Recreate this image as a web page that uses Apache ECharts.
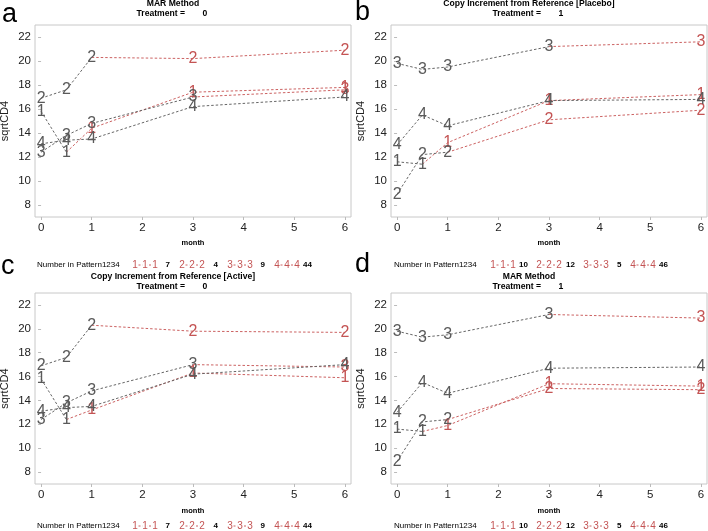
<!DOCTYPE html>
<html><head><meta charset="utf-8">
<script src="https://cdn.jsdelivr.net/npm/echarts@6/dist/echarts.min.js"></script>
<style>html,body{margin:0;padding:0;background:#fff}#c{width:708px;height:531px}</style>
</head><body><div id="c"></div><script>
// ---- data ----
const months = [0, 0.5, 1, 3, 6];
const xTicks = [0, 1, 2, 3, 4, 5, 6];
const yTicks = [8, 10, 12, 14, 16, 18, 20, 22];
const patternIds = [1, 2, 3, 4];
const observedPoints = [2, 3, 4, 5];   // number of observed visits per pattern
const countsT0 = [7, 4, 9, 44];
const countsT1 = [10, 12, 5, 46];
// a: MAR, treatment 0
const aP1 = [15.8, 12.4, 14.4, 17.4, 17.8];
const aP2 = [16.9, 17.6, 20.3, 20.2, 20.9];
const aP3 = [12.4, 13.8, 14.8, 17.0, 17.6];
const aP4 = [13.1, 13.4, 13.5, 16.2, 17.0];
// b: Copy increment from reference [Placebo], treatment 1
const bP1 = [11.6, 11.4, 13.2, 16.7, 17.2];
const bP2 = [8.9, 12.2, 12.4, 15.1, 15.9];
const bP3 = [19.8, 19.3, 19.5, 21.2, 21.6];
const bP4 = [13.0, 15.5, 14.6, 16.7, 16.8];
// c: Copy increment from reference [Active], treatment 0
const cP1 = [15.8, 12.4, 13.2, 16.3, 15.9];
const cP2 = [16.9, 17.6, 20.3, 19.8, 19.7];
const cP3 = [12.4, 13.8, 14.8, 17.0, 16.8];
const cP4 = [13.1, 13.4, 13.5, 16.2, 17.0];
// d: MAR, treatment 1
const dP1 = [11.6, 11.4, 11.9, 15.4, 15.2];
const dP2 = [8.9, 12.2, 12.4, 15.0, 14.9];
const dP3 = [19.8, 19.3, 19.5, 21.2, 20.9];
const dP4 = [13.0, 15.5, 14.6, 16.7, 16.8];

const panels = [
  {letter: 'a', title: 'MAR Method', trt: '0', series: [aP1, aP2, aP3, aP4], counts: countsT0},
  {letter: 'b', title: 'Copy Increment from Reference [Placebo]', trt: '1', series: [bP1, bP2, bP3, bP4], counts: countsT1},
  {letter: 'c', title: 'Copy Increment from Reference [Active]', trt: '0', series: [cP1, cP2, cP3, cP4], counts: countsT0},
  {letter: 'd', title: 'MAR Method', trt: '1', series: [dP1, dP2, dP3, dP4], counts: countsT1}
];

// ---- layout / style ----
const layout = [
  {left: 35, top: 25, h: 192, lx: 2, ly: 1.5, off: 0, cx: 173, t1: 4, mo: 243, lg: 265},
  {left: 391, top: 25, h: 192, lx: 355, ly: -0.5, off: 356, cx: 529, t1: 4, mo: 243, lg: 265},
  {left: 35, top: 293, h: 191, lx: 1, ly: 253, off: 0, cx: 173, t1: 277, mo: 511, lg: 526},
  {left: 391, top: 293, h: 191, lx: 355, ly: 251, off: 356, cx: 529, t1: 277, mo: 511, lg: 526}
];
const W = 316;
const GREY = '#666666', RED = '#cc6262';
const GREY_T = '#5a5a5a', RED_T = '#c45454';
const DIGIT_FONT = '"Liberation Sans Narrow","Liberation Sans",Arial,sans-serif';
const FONT = '"Liberation Sans",Arial,sans-serif';
const glyphXLeft = [133, 180, 228, 275], numXLeft = [165.5, 213.5, 260.5, 303];
const glyphXRight = [135, 181, 228, 275], numXRight = [163, 210, 261, 303];

const grids = [], xAxes = [], yAxes = [], series = [], graphics = [];
panels.forEach((p, i) => {
  const L = layout[i];
  grids.push({left: L.left, top: L.top, width: W, height: L.h, show: true,
    borderColor: '#c8c8c8', borderWidth: 1, containLabel: false});
  xAxes.push({type: 'value', gridIndex: i, min: -0.12, max: 6.12,
    axisLine: {show: false}, splitLine: {show: false},
    axisTick: {show: true, length: 3, customValues: xTicks, lineStyle: {color: '#bbb'}},
    axisLabel: {customValues: xTicks, fontSize: 11.5, color: '#222', margin: 5, fontFamily: FONT}});
  yAxes.push({type: 'value', gridIndex: i, min: 7, max: 23,
    axisLine: {show: false}, splitLine: {show: false},
    axisTick: {show: true, length: 3, customValues: yTicks, lineStyle: {color: '#bbb'}},
    axisLabel: {customValues: yTicks, fontSize: 11.5, color: '#222', margin: 4, fontFamily: FONT}});
  p.series.forEach((vals, j) => {
    const k = observedPoints[j];
    const digit = String(patternIds[j]);
    const lbl = (c) => ({show: true, position: 'inside', formatter: digit, fontSize: 16,
      fontFamily: DIGIT_FONT, color: c});
    series.push({type: 'line', xAxisIndex: i, yAxisIndex: i, animation: false,
      data: months.slice(0, k).map((m, t) => [m, vals[t]]),
      symbol: 'circle', symbolSize: 0.1, itemStyle: {color: 'rgba(0,0,0,0)'},
      lineStyle: {color: GREY, width: 1, type: [2.5, 2]}, label: lbl(GREY_T), z: 3});
    if (k < months.length) {
      series.push({type: 'line', xAxisIndex: i, yAxisIndex: i, animation: false,
        data: months.slice(k - 1).map((m, t) => t === 0 ? {value: [m, vals[k - 1 + t]], label: {show: false}} : [m, vals[k - 1 + t]]),
        symbol: 'circle', symbolSize: 0.1, itemStyle: {color: 'rgba(0,0,0,0)'},
        lineStyle: {color: RED, width: 1, type: [2.5, 2]}, label: lbl(RED_T), z: 2});
    }
  });
  // panel letter
  graphics.push({type: 'text', x: L.lx, y: L.ly, style: {text: p.letter, font: '27px ' + FONT, fill: '#000', align: 'left', verticalAlign: 'top'}});
  // titles
  graphics.push({type: 'text', x: L.cx, y: L.t1, style: {text: p.title, font: 'bold 8.6px ' + FONT, fill: '#000', align: 'center', verticalAlign: 'middle'}});
  graphics.push({type: 'text', x: L.cx + 12, y: L.t1 + 10, style: {text: 'Treatment =', font: 'bold 8.6px ' + FONT, fill: '#000', align: 'right', verticalAlign: 'middle'}});
  graphics.push({type: 'text', x: L.cx + 32, y: L.t1 + 10, style: {text: p.trt, font: 'bold 8.6px ' + FONT, fill: '#000', align: 'center', verticalAlign: 'middle'}});
  // axis names
  graphics.push({type: 'text', x: L.off + 5, y: L.top + L.h / 2, rotation: Math.PI / 2,
    style: {text: 'sqrtCD4', font: '11px ' + FONT, fill: '#222', align: 'center', verticalAlign: 'middle'}});
  graphics.push({type: 'text', x: L.left + W / 2, y: L.mo, style: {text: 'month', font: 'bold 7.5px ' + FONT, fill: '#000', align: 'center', verticalAlign: 'middle'}});
  // legend row
  const ly = L.lg;
  const right = i % 2 === 1;
  const lx0 = L.off + (right ? 38 : 37);
  graphics.push({type: 'text', x: lx0, y: ly, style: {text: 'Number in Pattern' + patternIds.join(''), font: '8px ' + FONT, fill: '#000', align: 'left', verticalAlign: 'middle'}});
  const glyphX = right ? glyphXRight : glyphXLeft;
  const numX = right ? numXRight : numXLeft;
  patternIds.forEach((pid, j) => {
    const gx = L.off + glyphX[j];
    graphics.push({type: 'line', shape: {x1: gx + 2, y1: ly, x2: gx + 22, y2: ly},
      style: {stroke: RED, lineWidth: 1, lineDash: [2, 1.5]}});
    [2, 12, 22].forEach(dx => graphics.push({type: 'text', x: gx + dx, y: ly, style: {text: String(pid), font: '10px ' + DIGIT_FONT, fill: RED_T, align: 'center', verticalAlign: 'middle', backgroundColor: '#fff'}}));
    graphics.push({type: 'text', x: L.off + numX[j], y: ly, style: {text: String(p.counts[j]), font: 'bold 8px ' + FONT, fill: '#000', align: 'left', verticalAlign: 'middle'}});
  });
});

const chart = echarts.init(document.getElementById('c'), null, {renderer: 'canvas'});
chart.setOption({animation: false, backgroundColor: '#fff', grid: grids, xAxis: xAxes, yAxis: yAxes, series: series, graphic: graphics});
</script></body></html>
